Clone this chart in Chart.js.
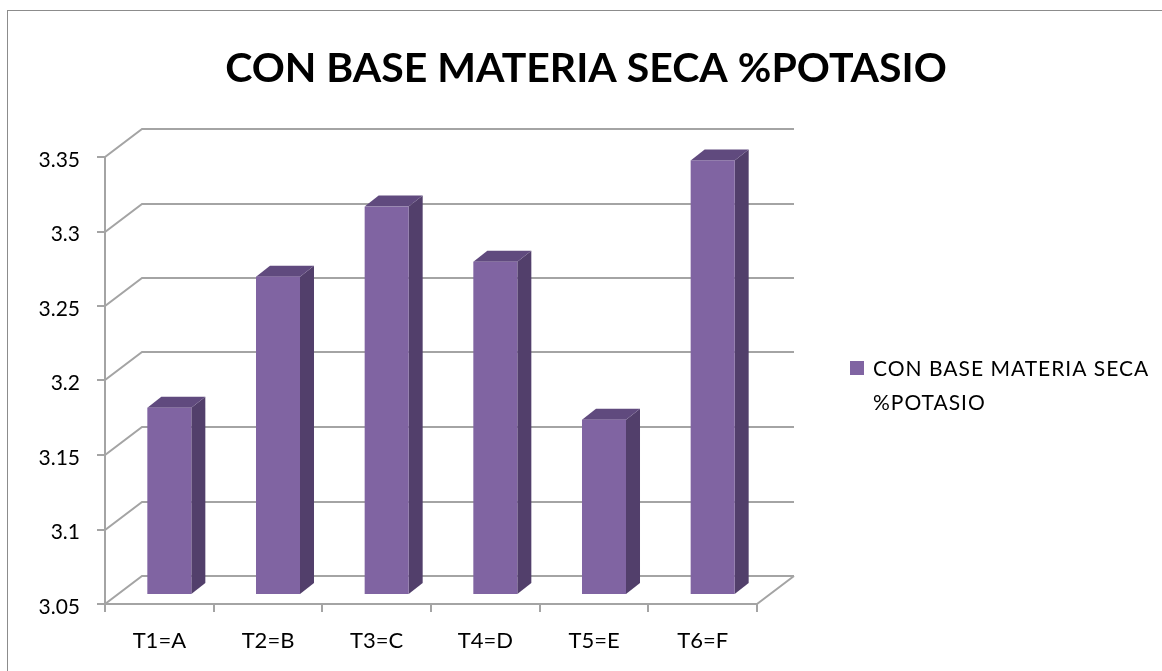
<!DOCTYPE html>
<html>
<head>
<meta charset="utf-8">
<script src="https://cdn.jsdelivr.net/npm/chart.js@4.4.1/dist/chart.umd.min.js"></script>
<style>
  html, body { margin: 0; padding: 0; background: #fff; }
  #wrap { width: 1162px; height: 671px; position: relative; }
</style>
</head>
<body>
<div id="wrap"><canvas id="c" width="1162" height="671"></canvas></div>
<script>
// ---- data ----
const chartTitle = 'CON BASE MATERIA SECA %POTASIO';
const seriesName = 'CON BASE MATERIA SECA %POTASIO';
const categories = ['T1=A', 'T2=B', 'T3=C', 'T4=D', 'T5=E', 'T6=F'];
const potasio = [3.175, 3.263, 3.31, 3.273, 3.167, 3.341];
const yMin = 3.05, yMax = 3.35, yStep = 0.05;

// ---- styles ----
const FRONT = '#8064A2', TOP = '#604A7E', SIDE = '#523F6B';
const GRID = '#a4a4a4';
const DEPTH = { dx: 37, dy: -28 };       // full floor depth (projection)
const BAR_FRONT = { dx: 10, dy: -10 };   // bar front face offset
const BAR_DEPTH = { dx: 14, dy: -11 };   // bar box depth

const threeD = {
  id: 'threeD',
  beforeDraw(chart) {
    const ctx = chart.ctx;
    ctx.save();
    ctx.strokeStyle = '#8c8c8c';
    ctx.lineWidth = 1;
    ctx.strokeRect(7.5, 10.5, 1400, 900);
    ctx.restore();
  },
  beforeDatasetsDraw(chart) {
    const ctx = chart.ctx;
    const ys = chart.scales.y;
    const a = chart.chartArea;
    ctx.save();
    ctx.strokeStyle = GRID;
    ctx.lineWidth = 2;
    ys.ticks.forEach(t => {
      const yp = Math.round(ys.getPixelForValue(t.value));
      ctx.beginPath();
      ctx.moveTo(a.left - 8, yp);
      ctx.lineTo(a.left, yp);
      ctx.lineTo(a.left + DEPTH.dx, yp + DEPTH.dy);
      ctx.lineTo(a.right + DEPTH.dx, yp + DEPTH.dy);
      ctx.stroke();
    });
    ctx.beginPath();
    ctx.moveTo(a.left, a.top);
    ctx.lineTo(a.left, a.bottom);
    ctx.stroke();
    ctx.beginPath();
    ctx.moveTo(a.left, a.bottom);
    ctx.lineTo(a.right, a.bottom);
    ctx.lineTo(a.right + DEPTH.dx, a.bottom + DEPTH.dy);
    ctx.stroke();
    const n = categories.length;
    for (let i = 0; i <= n; i++) {
      const xp = Math.round(a.left + (a.right - a.left) * i / n);
      ctx.beginPath();
      ctx.moveTo(xp, a.bottom);
      ctx.lineTo(xp, a.bottom + 8);
      ctx.stroke();
    }
    const meta = chart.getDatasetMeta(0);
    meta.data.forEach(el => {
      const w = el.width;
      const L = el.x - w / 2 + BAR_FRONT.dx, R = L + w;
      const T = el.y + BAR_FRONT.dy, B = el.base + BAR_FRONT.dy;
      ctx.fillStyle = SIDE;
      ctx.beginPath();
      ctx.moveTo(R, T);
      ctx.lineTo(R + BAR_DEPTH.dx, T + BAR_DEPTH.dy);
      ctx.lineTo(R + BAR_DEPTH.dx, B + BAR_DEPTH.dy);
      ctx.lineTo(R, B);
      ctx.closePath();
      ctx.fill();
      ctx.fillStyle = TOP;
      ctx.beginPath();
      ctx.moveTo(L, T);
      ctx.lineTo(L + BAR_DEPTH.dx, T + BAR_DEPTH.dy);
      ctx.lineTo(R + BAR_DEPTH.dx, T + BAR_DEPTH.dy);
      ctx.lineTo(R, T);
      ctx.closePath();
      ctx.fill();
      ctx.fillStyle = FRONT;
      ctx.fillRect(L, T, w, B - T);
    });
    ctx.restore();
    return false;
  },
  afterDraw(chart) {
    const ctx = chart.ctx;
    const ds = chart.data.datasets[0];
    ctx.save();
    // title
    ctx.fillStyle = '#000';
    ctx.font = 'bold 41px Lato';
    ctx.textBaseline = 'middle';
    ctx.textAlign = 'center';
    ctx.fillText(chartTitle, 586, 68.6);
    // legend
    const words = ds.label.split(' ');
    const line2 = words.pop();
    const line1 = words.join(' ');
    ctx.fillStyle = ds.backgroundColor;
    ctx.fillRect(850, 361, 14, 14);
    ctx.fillStyle = '#000';
    ctx.font = '21px Lato';
    ctx.textAlign = 'left';
    if ('letterSpacing' in ctx) ctx.letterSpacing = '1px';
    ctx.fillText(line1, 873, 369);
    ctx.fillText(line2, 873, 403);
    ctx.restore();
  }
};

function build() {
  Chart.defaults.font.family = 'Lato';
  Chart.defaults.color = '#000';
  new Chart(document.getElementById('c'), {
    type: 'bar',
    data: {
      labels: categories,
      datasets: [{
        label: seriesName,
        data: potasio,
        base: yMin,
        backgroundColor: FRONT,
        categoryPercentage: 1,
        barPercentage: 0.405
      }]
    },
    options: {
      responsive: false,
      animation: false,
      layout: { padding: { left: 0, right: 405, top: 157, bottom: 0 } },
      plugins: {
        legend: { display: false },
        tooltip: { enabled: false },
        title: { display: false }
      },
      scales: {
        x: {
          grid: { display: false, drawTicks: false },
          border: { display: false },
          ticks: { font: { size: 22 }, padding: 24, maxRotation: 0 },
          afterFit(s) { s.height = 67; }
        },
        y: {
          min: yMin, max: yMax,
          grid: { display: false, drawTicks: false },
          border: { display: false },
          ticks: {
            stepSize: yStep,
            font: { size: 21 },
            padding: 25,
            labelOffset: 3,
            callback: v => String(Number(v.toFixed(2)))
          },
          afterFit(s) { s.width = 105; }
        }
      }
    },
    plugins: [threeD]
  });
}
if (document.fonts && document.fonts.load) {
  Promise.all([document.fonts.load('bold 41px Lato'), document.fonts.load('21px Lato')])
    .then(build, build);
} else build();
</script>
</body>
</html>
